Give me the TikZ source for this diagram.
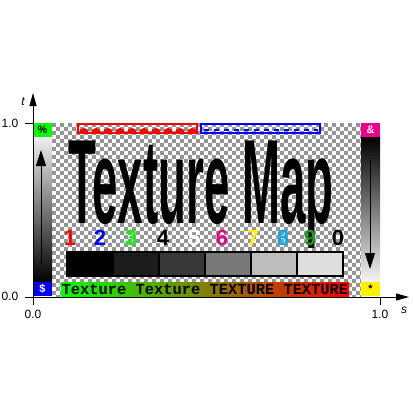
\documentclass[tikz,border=0pt]{standalone}
\usepackage{fontspec}
\setmainfont{Liberation Sans}
\setmonofont{Liberation Mono}
\usetikzlibrary{arrows.meta}
\definecolor{checkgray}{gray}{0.58}
\definecolor{darkgreen}{rgb}{0.13,0.6,0.13}
\begin{document}
\begin{tikzpicture}[x=1pt, y=-1pt,
        every node/.style={inner sep=0pt},
        axislabel/.style={font=\fontsize{12}{12}\selectfont},
        axisline/.style={line width=1pt},
        axisarrow/.style={-{Triangle[length=13pt,width=7pt]}},
        striparrow/.style={line width=0.8pt, -{Triangle[length=16pt,width=10pt]}},
        corner/.style={minimum width=19pt, minimum height=14pt, font=\fontsize{11}{11}\selectfont\bfseries},
        digit/.style={font=\fontsize{22}{22}\selectfont\bfseries},
        graycell/.style={draw=black, line width=1.2pt, minimum width=46pt, minimum height=24pt},
        textbar/.style={minimum width=288pt, minimum height=14pt, font=\ttfamily\bfseries\fontsize{15.4}{15.4}\selectfont}
    ]
    \useasboundingbox (0,0) rectangle (413,413);
    \fill[white] (0,0) rectangle (413,413);

    % checkerboard
    \begin{scope}
        \clip (52,123) rectangle (361,296);
        \foreach \j in {0,...,43}{
            \pgfmathsetmacro{\off}{mod(\j,2)*4}
            \foreach \i in {0,8,...,308}
                \fill[checkgray] (52+\i+\off,123+4*\j) rectangle ++(4,4);
        }
    \end{scope}

    % side strips
    \shade[top color=white!94!black, bottom color=black] (33,137) rectangle (52,282);
    \shade[top color=black, bottom color=white!96!black] (361,137) rectangle (380,282);

    \node[corner, fill=green] (cg) at (42.5,130) {\%};
    \node[corner, fill=blue, text=white] (cb) at (42.5,289) {\$};
    \node[corner, fill=magenta, text=white] (cm) at (370.5,130) {\&};
    \node[corner, fill=yellow] (cy) at (370.5,289) {*};

    \coordinate (la0) at (41,264);
    \coordinate (la1) at (41,150);
    \draw[striparrow] (la0) -- (la1);
    \coordinate (ra0) at (370,158);
    \coordinate (ra1) at (370,269);
    \draw[striparrow] (ra0) -- (ra1);

    % top boxes
    \draw[red, line width=1.2pt] (78,124) rectangle (197,133);
    \foreach \k in {0,...,9}
        \fill[red] (79+12*\k,133) arc[start angle=180, end angle=360, radius=5];
    \draw[blue, line width=1.2pt] (201,124) rectangle (320,133);
    \draw[blue, line width=2pt, dash pattern=on 5pt off 5pt] (204,130) -- (318,130);

    % title
    \node[font=\fontsize{120}{120}\selectfont\bfseries, xscale=0.38, text depth=0pt, anchor=base west] (title) at (68,223) {Texture Map};

    % digits
    \foreach \d/\xx/\c in {1/70/red, 2/100/blue, 3/131/green, 4/163/black, 5/194/white,
        6/222/magenta, 7/253/yellow, 8/283/cyan, 9/310/darkgreen, 0/338/black}
        \node[digit, text=\c] (d\d) at (\xx,238) {\d};

    % gray bar
    \foreach \k/\p in {0/100, 1/89, 2/78, 3/53, 4/26, 5/13}
        \node[graycell, fill=black!\p] (g\k) at (90+46*\k,264) {};

    % text bar
    \node[textbar, left color=green, right color=red] (bar) at (205,289) {Texture Texture TEXTURE TEXTURE};

    % axes
    \coordinate (ob) at (33,305);
    \coordinate (ol) at (25,297);
    \coordinate (tend) at (33,93);
    \coordinate (send) at (409,297);
    \draw[axisline, axisarrow] (ob) -- (tend);
    \draw[axisline, axisarrow] (ol) -- (send);
    \coordinate (t1) at (33,123);
    \coordinate (t1l) at (25,123);
    \draw[axisline] (t1) -- (t1l);
    \coordinate (s1) at (380,297);
    \coordinate (s1b) at (380,305);
    \draw[axisline] (s1) -- (s1b);

    \node[axislabel] (lt1) at (10,123) {1.0};
    \node[axislabel] (lt0) at (10,296) {0.0};
    \node[axislabel] (ls0) at (33,314) {0.0};
    \node[axislabel] (ls1) at (380,314) {1.0};
    \node[axislabel, font=\itshape\fontsize{12}{12}\selectfont] (lt) at (23,102) {t};
    \node[axislabel, font=\itshape\fontsize{12}{12}\selectfont] (ls) at (404,310) {s};
\end{tikzpicture}
\end{document}
